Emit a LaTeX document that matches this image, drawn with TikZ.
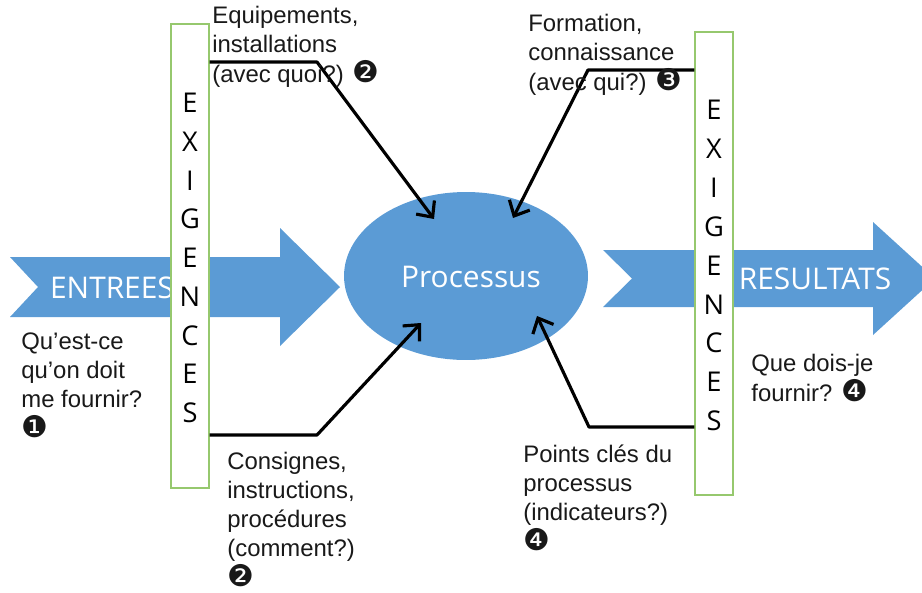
\documentclass[tikz,border=0pt]{standalone}
\usepackage{fontspec}
\setmainfont{Liberation Sans}
\newfontfamily\segoe{Open Sans}
\newfontfamily\dingfont{DejaVu Sans}
\usetikzlibrary{arrows.meta,shapes.geometric,calc}
\definecolor{procblue}{RGB}{91,155,213}
\definecolor{exgreen}{RGB}{150,200,110}
\definecolor{labelgray}{RGB}{25,25,25}
\newcommand\circnum[1]{{\dingfont\fontsize{17}{16.6}\selectfont #1}}
\begin{document}
\begin{tikzpicture}[x=0.02cm,y=-0.02cm,
  bigarrow/.style={fill=procblue,draw=none},
  exbox/.style={draw=exgreen,line width=0.8pt,fill=white,minimum width=0.76cm,inner sep=0pt},
  exletter/.style={font=\segoe\fontsize{15.5}{16}\selectfont,anchor=base,text=black,inner sep=0pt},
  conn/.style={line width=1.8pt,line join=round,-{Straight Barb[length=7pt,width=13pt,line width=1.8pt]}},
  lbl/.style={font=\fontsize{13.6}{16.6}\selectfont,anchor=base west,align=left,inner sep=0pt,text=labelgray},
  arrowtext/.style={font=\segoe\fontsize{17}{20}\selectfont,text=white,inner sep=0pt}]
\useasboundingbox (0,0) rectangle (922,592);
\clip (0,0) rectangle (922,592);

% big arrows
\fill[bigarrow] (10,257) -- (280,257) -- (280,228) -- (340,287) -- (280,346) -- (280,317) -- (10,317) -- (38,287) -- cycle;
\fill[bigarrow] (603,250) -- (873,250) -- (873,222) -- (935,278.5) -- (873,335) -- (873,307) -- (603,307) -- (632,278.5) -- cycle;
\node[arrowtext] (entrees) at (112,288) {ENTREES};
\node[arrowtext] (resultats) at (815,279) {RESULTATS};

% process ellipse
\node[ellipse,fill=procblue,minimum width=4.88cm,minimum height=3.36cm,inner sep=0pt] (proc) at (466,276) {};
\node[arrowtext] (proclabel) at (471,277) {Processus};

% requirement boxes
\node[exbox,minimum height=9.28cm] (exl) at (190,256) {};
\node[exbox,minimum height=9.26cm] (exr) at (714,263.5) {};
\foreach \l [count=\i] in {E,X,I,G,E,N,C,E,S} {
  \node[exletter] (lL\i) at (190,{103+38.75*(\i-1)+9.5}) {\l};
  \node[exletter] (lR\i) at (714,{110+38.9*(\i-1)+9.5}) {\l};
}

% connectors
\coordinate (b1) at (317,62);
\coordinate (e1) at (434,219);
\coordinate (b2) at (588,70);
\coordinate (e2) at (513,218);
\coordinate (b3) at (317,435);
\coordinate (e3) at (421,323);
\coordinate (b4) at (589,427);
\coordinate (e4) at (537,316);
\draw[conn] (exl.east |- 0,62) -- (b1) -- (e1);
\draw[conn] (exr.west |- 0,70) -- (b2) -- (e2);
\draw[conn] (exl.east |- 0,435) -- (b3) -- (e3);
\draw[conn] (exr.west |- 0,427) -- (b4) -- (e4);

% labels (anchored at the baseline of their last line)
\node[lbl] (equip) at (212,82) {Equipements,\\installations\\(avec quoi?) \circnum{❷}};
\node[lbl] (form) at (528,90) {Formation,\\connaissance\\(avec qui?) \circnum{❸}};
\node[lbl] (quest) at (21,437) {Qu’est-ce\\qu’on doit\\me fournir?\\\circnum{❶}};
\node[lbl] (consi) at (227,586) {Consignes,\\instructions,\\procédures\\(comment?)\\\circnum{❷}};
\node[lbl] (points) at (523,550) {Points clés du\\processus\\(indicateurs?)\\\circnum{❹}};
\node[lbl] (quedois) at (751,401) {Que dois-je\\fournir? \circnum{❹}};
\end{tikzpicture}
\end{document}
